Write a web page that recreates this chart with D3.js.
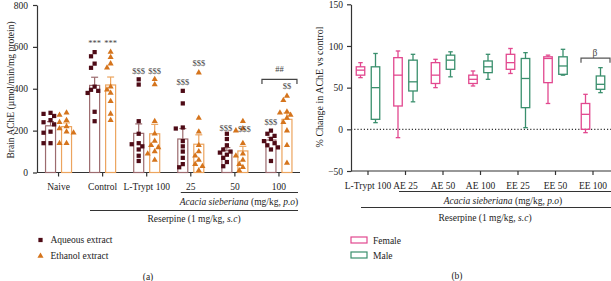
<!DOCTYPE html>
<html>
<head>
<meta charset="utf-8">
<script src="https://cdn.jsdelivr.net/npm/d3@7"></script>
<style>
  body { margin: 0; background: #fff; }
  svg { font-family: "Liberation Serif", "DejaVu Serif", serif; }
</style>
</head>
<body>
<svg id="chart" width="611" height="281"></svg>
<script>
// ---- panel (a) data ----
var groupsA = ["Naive", "Control", "L-Trypt 100", "25", "50", "100"];
var aqueousPts = [
  [280, 270, 285, 250, 240, 190, 195, 140, 140, 230],
  [575, 555, 520, 500, 410, 395, 390, 380, 290, 245],
  [445, 420, 245, 185, 140, 135, 125, 110, 80, 55],
  [390, 330, 215, 210, 150, 125, 100, 70, 40, 25],
  [185, 160, 130, 110, 100, 95, 85, 70, 50, 30],
  [200, 185, 175, 160, 150, 140, 130, 120, 110, 55]
];
var ethanolPts = [
  [285, 275, 250, 240, 220, 210, 190, 195, 140, 140],
  [575, 550, 520, 500, 410, 395, 380, 340, 280, 250],
  [445, 420, 245, 185, 150, 130, 120, 100, 90, 60],
  [477, 260, 195, 130, 100, 80, 60, 40, 30, 10],
  [245, 210, 200, 140, 90, 80, 60, 40, 25, 10],
  [365, 345, 290, 285, 275, 260, 240, 200, 130, 45]
];
var aqueousMean = [223, 416, 187, 160, 104, 155];
var ethanolMean = [219, 418, 185, 135, 103, 254];
var aqueousSem = [20, 39, 45, 50, 15, 13];
var ethanolSem = [18, 38, 45, 45, 22, 30];
var yTicksA = [0, 200, 400, 600, 800];
// significance marks: group, series (0 aqueous, 1 ethanol), text, value level
var marksA = [
  ["Control", 0, "***", 604], ["Control", 1, "***", 604],
  ["L-Trypt 100", 0, "$$$", 470], ["L-Trypt 100", 1, "$$$", 470],
  ["25", 0, "$$$", 418], ["25", 1, "$$$", 509],
  ["50", 0, "$$$", 198], ["50", 1, "$$$", 193],
  ["100", 0, "$$$", 227], ["100", 1, "$$", 399]
];

// ---- panel (b) data: [min, q1, median, q3, max] ----
var groupsB = ["L-Trypt 100", "AE 25", "AE 50", "AE 100", "EE 25", "EE 50", "EE 100"];
var femaleBox = [
  [62, 65, 71, 75, 80],
  [-10, 28, 65, 86, 94],
  [50, 55, 65, 80, 84],
  [52, 55, 60, 65, 70],
  [67, 72, 80, 90, 97],
  [31, 56, 85, 87, 89],
  [-4, 0, 18, 31, 42]
];
var maleBox = [
  [8, 12, 50, 75, 91],
  [33, 46, 57, 83, 90],
  [63, 72, 83, 89, 93],
  [60, 68, 75, 82, 90],
  [2, 26, 61, 85, 92],
  [65, 66, 76, 87, 96],
  [44, 48, 54, 64, 74]
];
var yTicksB = [-50, 0, 50, 100, 150];

var svg = d3.select("#chart");
var axisCol = "#333";
var aqCol = "#4e0b16", aqBar = "#9c6b6e";
var etCol = "#d5741c", etBar = "#eca45e";
var femCol = "#e2488f", maleCol = "#3a8f6d";

// ================= panel (a) =================
var ya = d3.scaleLinear().domain([0, 800]).range([172.5, 5]);
var xa = d3.scaleBand().domain(groupsA).range([36.5, 301]);
var off = 8, bw = 10;

var gA = svg.append("g");
gA.append("g")
  .attr("transform", "translate(37,0)")
  .call(d3.axisLeft(ya).tickValues(yTicksA).tickSize(4).tickPadding(5).tickSizeOuter(0))
  .call(function(g) {
    g.selectAll("path,line").attr("stroke", axisCol).attr("stroke-width", 1.2);
    g.selectAll("text").attr("font-size", 9.5).attr("fill", "#222").attr("font-family", "Liberation Serif");
  });
gA.append("g")
  .attr("transform", "translate(0,172.5)")
  .call(d3.axisBottom(xa).tickSize(4).tickPadding(7).tickSizeOuter(0))
  .call(function(g) {
    g.select(".domain").attr("d", "M37,0H300");
    g.selectAll("path,line").attr("stroke", axisCol).attr("stroke-width", 1.2);
    g.selectAll("text").attr("font-size", 9.5).attr("fill", "#222").attr("font-family", "Liberation Serif");
  });

gA.append("text")
  .attr("transform", "translate(14,90) rotate(-90)")
  .attr("text-anchor", "middle").attr("font-size", 9.5).attr("fill", "#222")
  .text("Brain AChE (\u00b5mol/min/mg protein)");

function drawSeries(means, sems, pts, dx, barCol, ptCol, sym) {
  groupsA.forEach(function(g, i) {
    var cx = xa(g) + xa.bandwidth() / 2 + dx;
    // bar
    gA.append("rect")
      .attr("x", cx - bw / 2).attr("y", ya(means[i]))
      .attr("width", bw).attr("height", ya(0) - ya(means[i]))
      .attr("fill", "none").attr("stroke", barCol).attr("stroke-width", 1.2);
    // error bar
    gA.append("line").attr("x1", cx).attr("x2", cx)
      .attr("y1", ya(means[i])).attr("y2", ya(means[i] + sems[i]))
      .attr("stroke", barCol).attr("stroke-width", 1.2);
    gA.append("line").attr("x1", cx - 3.5).attr("x2", cx + 3.5)
      .attr("y1", ya(means[i] + sems[i])).attr("y2", ya(means[i] + sems[i]))
      .attr("stroke", barCol).attr("stroke-width", 1.2);
    // points, spread sideways so they don't overlap
    var placed = [];
    var order = pts[i].slice().sort(function(a, b) { return b - a; });
    order.forEach(function(v) {
      var py = ya(v);
      var shifts = [0, -3.6, 3.6, -7, 7, -1.8, 1.8, -5.4, 5.4];
      var sx = shifts[0];
      for (var k = 0; k < shifts.length; k++) {
        var ok = placed.every(function(p) {
          return Math.hypot(p[0] - (cx + shifts[k]), p[1] - py) > 4.3;
        });
        if (ok) { sx = shifts[k]; break; }
      }
      placed.push([cx + sx, py]);
      gA.append("path")
        .attr("transform", "translate(" + (cx + sx) + "," + py + ")")
        .attr("d", d3.symbol().type(sym).size(sym === d3.symbolSquare ? 18 : 16)())
        .attr("fill", ptCol);
    });
  });
}
drawSeries(aqueousMean, aqueousSem, aqueousPts, -off, aqBar, aqCol, d3.symbolSquare);
drawSeries(ethanolMean, ethanolSem, ethanolPts, off, etBar, etCol, d3.symbolTriangle);

marksA.forEach(function(m) {
  var cx = xa(m[0]) + xa.bandwidth() / 2 + (m[1] === 0 ? -off : off);
  if (m[0] === "50") cx += (m[1] === 0 ? -1 : 1.5);
  gA.append("text").attr("x", cx).attr("y", ya(m[3]))
    .attr("text-anchor", "middle").attr("font-size", 8.5).attr("fill", "#444")
    .text(m[2]);
});
// ## bracket over 100
(function() {
  var c = xa("100") + xa.bandwidth() / 2;
  var yb = ya(445), yl = ya(423);
  gA.append("path")
    .attr("d", "M" + (c - 17) + "," + yl + "V" + yb + "H" + (c + 18) + "V" + yl)
    .attr("fill", "none").attr("stroke", "#444").attr("stroke-width", 1.2);
  gA.append("text").attr("x", c + 0.5).attr("y", ya(480))
    .attr("text-anchor", "middle").attr("font-size", 8.5).attr("fill", "#444").text("##");
})();

// group lines and labels under axis (a)
var x25 = xa("25") + xa.bandwidth() / 2;
gA.append("line").attr("x1", x25 - 10).attr("x2", 298).attr("y1", 192.5).attr("y2", 192.5)
  .attr("stroke", axisCol).attr("stroke-width", 1);
var tA1 = gA.append("text").attr("x", 239).attr("y", 205).attr("text-anchor", "middle")
  .attr("font-size", 9.5).attr("fill", "#222");
tA1.append("tspan").attr("font-style", "italic").text("Acacia sieberiana");
tA1.append("tspan").text(" (mg/kg, ");
tA1.append("tspan").attr("font-style", "italic").text("p.o");
tA1.append("tspan").text(")");
gA.append("line").attr("x1", 90).attr("x2", 298).attr("y1", 210.5).attr("y2", 210.5)
  .attr("stroke", axisCol).attr("stroke-width", 1);
var tA2 = gA.append("text").attr("x", 194).attr("y", 222).attr("text-anchor", "middle")
  .attr("font-size", 9.5).attr("fill", "#222");
tA2.append("tspan").text("Reserpine (1 mg/kg, ");
tA2.append("tspan").attr("font-style", "italic").text("s.c");
tA2.append("tspan").text(")");

// legend (a)
gA.append("path").attr("transform", "translate(40.5,240)")
  .attr("d", d3.symbol().type(d3.symbolSquare).size(18)()).attr("fill", aqCol);
gA.append("text").attr("x", 50.5).attr("y", 243).attr("font-size", 9.5).attr("fill", "#222").text("Aqueous extract");
gA.append("path").attr("transform", "translate(40.5,256)")
  .attr("d", d3.symbol().type(d3.symbolTriangle).size(16)()).attr("fill", etCol);
gA.append("text").attr("x", 50.5).attr("y", 259).attr("font-size", 9.5).attr("fill", "#222").text("Ethanol extract");
gA.append("text").attr("x", 148).attr("y", 279.5).attr("text-anchor", "middle")
  .attr("font-size", 9.5).attr("fill", "#222").text("(a)");

// ================= panel (b) =================
var yb = d3.scaleLinear().domain([-50, 150]).range([171, 4.3]);
var xb = d3.scaleBand().domain(groupsB).range([349.25, 611.75]);
var gB = svg.append("g");

gB.append("g")
  .attr("transform", "translate(351,0)")
  .call(d3.axisLeft(yb).tickValues(yTicksB).tickSize(4).tickPadding(4).tickSizeOuter(0))
  .call(function(g) {
    g.selectAll("path,line").attr("stroke", axisCol).attr("stroke-width", 1.2);
    g.selectAll("text").attr("font-size", 9.5).attr("fill", "#222").attr("font-family", "Liberation Serif");
  });
gB.append("g")
  .attr("transform", "translate(0,171)")
  .call(d3.axisBottom(xb).tickSize(4).tickPadding(7).tickSizeOuter(0))
  .call(function(g) {
    g.select(".domain").attr("d", "M351,0H611");
    g.selectAll("path,line").attr("stroke", axisCol).attr("stroke-width", 1.2);
    g.selectAll("text").attr("font-size", 9.5).attr("fill", "#222").attr("font-family", "Liberation Serif");
  });

gB.append("text")
  .attr("transform", "translate(323,87) rotate(-90)")
  .attr("text-anchor", "middle").attr("font-size", 10).attr("fill", "#222")
  .text("% Change in AChE vs control");

// zero reference line
gB.append("line").attr("x1", 351).attr("x2", 611).attr("y1", yb(0)).attr("y2", yb(0))
  .attr("stroke", "#333").attr("stroke-width", 1.1).attr("stroke-dasharray", "1.2,2");

function drawBoxes(data, dx, col) {
  groupsB.forEach(function(g, i) {
    var d = data[i];
    var cx = xb(g) + xb.bandwidth() / 2 + dx;
    var w = 8.5, cw = 4.5;
    var s = gB.append("g").attr("stroke", col).attr("stroke-width", 1.3).attr("fill", "none");
    s.append("line").attr("x1", cx).attr("x2", cx).attr("y1", yb(d[0])).attr("y2", yb(d[1]));
    s.append("line").attr("x1", cx).attr("x2", cx).attr("y1", yb(d[3])).attr("y2", yb(d[4]));
    s.append("line").attr("x1", cx - cw / 2).attr("x2", cx + cw / 2).attr("y1", yb(d[0])).attr("y2", yb(d[0]));
    s.append("line").attr("x1", cx - cw / 2).attr("x2", cx + cw / 2).attr("y1", yb(d[4])).attr("y2", yb(d[4]));
    s.append("rect").attr("x", cx - w / 2).attr("y", yb(d[3]))
      .attr("width", w).attr("height", yb(d[1]) - yb(d[3]));
    s.append("line").attr("x1", cx - w / 2).attr("x2", cx + w / 2).attr("y1", yb(d[2])).attr("y2", yb(d[2]));
  });
}
drawBoxes(femaleBox, -7.5, femCol);
drawBoxes(maleBox, 7.5, maleCol);

// beta bracket on EE 100
(function() {
  var c = xb("EE 100") + xb.bandwidth() / 2;
  gB.append("path")
    .attr("d", "M" + (c - 12) + "," + yb(80) + "V" + yb(85.5) + "H" + (c + 17) + "V" + yb(80))
    .attr("fill", "none").attr("stroke", "#555").attr("stroke-width", 1.2);
  gB.append("text").attr("x", c + 2).attr("y", yb(88.5))
    .attr("text-anchor", "middle").attr("font-size", 9.5).attr("fill", "#444").text("\u03b2");
})();

// group lines and labels under axis (b)
gB.append("line").attr("x1", 399).attr("x2", 611).attr("y1", 191.5).attr("y2", 191.5)
  .attr("stroke", axisCol).attr("stroke-width", 1);
var tB1 = gB.append("text").attr("x", 503).attr("y", 204).attr("text-anchor", "middle")
  .attr("font-size", 9.5).attr("fill", "#222");
tB1.append("tspan").attr("font-style", "italic").text("Acacia sieberiana");
tB1.append("tspan").text(" (mg/kg, ");
tB1.append("tspan").attr("font-style", "italic").text("p.o");
tB1.append("tspan").text(")");
gB.append("line").attr("x1", 361).attr("x2", 611).attr("y1", 207.5).attr("y2", 207.5)
  .attr("stroke", axisCol).attr("stroke-width", 1);
var tB2 = gB.append("text").attr("x", 485).attr("y", 220.5).attr("text-anchor", "middle")
  .attr("font-size", 9.5).attr("fill", "#222");
tB2.append("tspan").text("Reserpine (1 mg/kg, ");
tB2.append("tspan").attr("font-style", "italic").text("s.c");
tB2.append("tspan").text(")");

// legend (b)
[["Female", femCol, 237], ["Male", maleCol, 252]].forEach(function(l) {
  gB.append("rect").attr("x", 351).attr("y", l[2]).attr("width", 16).attr("height", 6)
    .attr("fill", "none").attr("stroke", l[1]).attr("stroke-width", 1.2);
  gB.append("text").attr("x", 373).attr("y", l[2] + 6.5).attr("font-size", 9.5)
    .attr("fill", "#222").text(l[0]);
});
gB.append("text").attr("x", 457).attr("y", 279).attr("text-anchor", "middle")
  .attr("font-size", 9.5).attr("fill", "#222").text("(b)");
</script>
</body>
</html>
